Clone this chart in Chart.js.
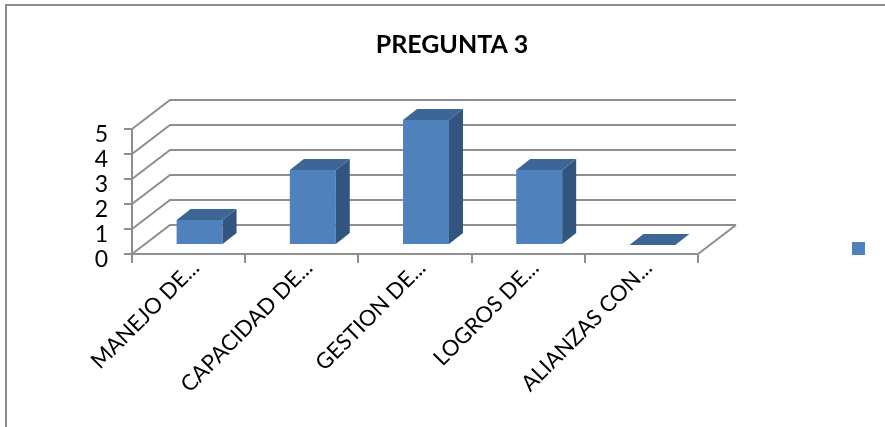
<!DOCTYPE html>
<html>
<head>
<meta charset="utf-8">
<script src="https://cdn.jsdelivr.net/npm/chart.js@4/dist/chart.umd.min.js"></script>
<style>
  html, body { margin: 0; padding: 0; background: #fff; }
  canvas { display: block; }
</style>
</head>
<body>
<canvas id="c" width="885" height="427"></canvas>
<script>
// Survey answers for question 3
const chartTitle = 'PREGUNTA 3';
const categories = ['MANEJO DE...', 'CAPACIDAD DE...', 'GESTION DE...', 'LOGROS DE...', 'ALIANZAS CON...'];
const values = [1, 3, 5, 3, 0];
const yTicks = [0, 1, 2, 3, 4, 5];

// Styling
const GRID = '#8e8e8e';
const FRONT = '#4f81bd';
const TOP = '#3d6696';
const SIDE = '#32557f';
const WALL = { dx: 38, dy: -29 };   // depth of the box (floor / side wall / back wall)
const SHIFT = { dx: 11, dy: -9 };   // bars sit part way into the box
const DEPTH = { dx: 14, dy: -11 };  // depth of each bar

Chart.defaults.font.family = 'Lato';

function poly(ctx, pts) {
  ctx.beginPath();
  ctx.moveTo(pts[0][0], pts[0][1]);
  for (let i = 1; i < pts.length; i++) ctx.lineTo(pts[i][0], pts[i][1]);
  ctx.closePath();
  ctx.fill();
}

// White page with a grey frame on the top and left edges
const frame = {
  id: 'frame',
  beforeDraw(chart) {
    const ctx = chart.ctx;
    ctx.save();
    ctx.fillStyle = '#fff';
    ctx.fillRect(0, 0, chart.width, chart.height);
    ctx.strokeStyle = '#8c8c8c';
    ctx.lineWidth = 2;
    ctx.beginPath();
    ctx.moveTo(6, chart.height);
    ctx.lineTo(6, 5);
    ctx.lineTo(chart.width, 5);
    ctx.stroke();
    ctx.restore();
  }
};

// Side wall, back wall grid and floor edge, then the 3D faces of the bars
const box3d = {
  id: 'box3d',
  beforeDatasetsDraw(chart) {
    const { ctx, chartArea: a, scales: { y } } = chart;
    ctx.save();
    ctx.strokeStyle = GRID;
    ctx.lineWidth = 2;
    ctx.beginPath();
    y.ticks.forEach(t => {
      const py = y.getPixelForValue(t.value);
      ctx.moveTo(a.left, py);
      ctx.lineTo(a.left + WALL.dx, py + WALL.dy);
      ctx.lineTo(a.right + WALL.dx, py + WALL.dy);
    });
    ctx.moveTo(a.right, a.bottom);
    ctx.lineTo(a.right + WALL.dx, a.bottom + WALL.dy);
    ctx.stroke();
    ctx.restore();
    ctx.save();
    ctx.translate(SHIFT.dx, SHIFT.dy);
  },
  afterDatasetsDraw(chart) {
    const ctx = chart.ctx;
    const meta = chart.getDatasetMeta(0);
    meta.data.forEach(bar => {
      const { x, y, base, width } = bar.getProps(['x', 'y', 'base', 'width'], true);
      const l = x - width / 2, r = x + width / 2;
      const top = Math.min(y, base), bot = Math.max(y, base);
      if (bot - top > 0.5) {
        ctx.fillStyle = SIDE;
        poly(ctx, [[r, top], [r + DEPTH.dx, top + DEPTH.dy], [r + DEPTH.dx, bot + DEPTH.dy], [r, bot]]);
      }
      ctx.fillStyle = TOP;
      poly(ctx, [[l, top], [l + DEPTH.dx, top + DEPTH.dy], [r + DEPTH.dx, top + DEPTH.dy], [r, top]]);
    });
    ctx.restore();
  }
};

new Chart(document.getElementById('c'), {
  type: 'bar',
  data: {
    labels: categories,
    datasets: [{
      label: '',
      data: values,
      backgroundColor: FRONT,
      borderWidth: 0,
      categoryPercentage: 1,
      barPercentage: 0.406,
      clip: false
    }]
  },
  options: {
    responsive: false,
    animation: false,
    devicePixelRatio: 1,
    layout: { padding: { left: 23, right: 4, top: 0, bottom: 18 } },
    plugins: {
      title: {
        display: true,
        text: chartTitle,
        color: '#000',
        font: { family: 'Lato', size: 25, weight: 'bold' },
        padding: { top: 30, bottom: 69 }
      },
      legend: {
        position: 'right',
        align: 'end',
        labels: { boxWidth: 13, boxHeight: 13, padding: 154, font: { size: 12 } }
      },
      tooltip: { enabled: false }
    },
    scales: {
      x: {
        grid: { offset: true, drawOnChartArea: false, drawTicks: true, tickLength: 9, color: GRID, lineWidth: 2 },
        border: { display: true, color: GRID, width: 2 },
        ticks: {
          color: '#000',
          font: { family: 'Lato', size: 22 },
          minRotation: 45, maxRotation: 45, autoSkip: false,
          padding: -8, labelOffset: 7
        },
        afterFit(s) { s.height = 155; }
      },
      y: {
        min: 0, max: 5,
        afterBuildTicks(s) { s.ticks = yTicks.map(v => ({ value: v })); },
        grid: { drawOnChartArea: false, tickLength: 8, color: GRID, lineWidth: 2 },
        border: { display: true, color: GRID, width: 2 },
        ticks: { color: '#000', font: { family: 'Lato', size: 23 }, padding: 16, labelOffset: 6, autoSkip: false },
        afterFit(s) { s.width = 109; }
      }
    }
  },
  plugins: [frame, box3d]
});
</script>
</body>
</html>
